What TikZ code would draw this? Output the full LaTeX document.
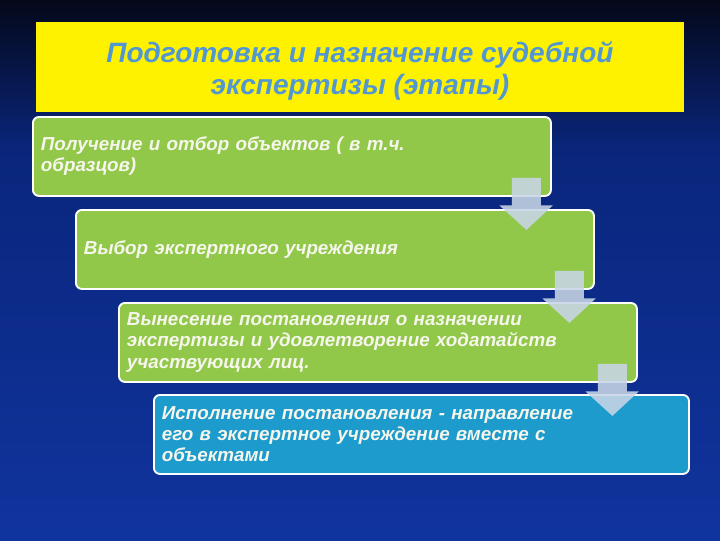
\documentclass[tikz,border=0pt]{standalone}
\usepackage{fontspec}
\setmainfont{Liberation Sans}
\begin{document}
\begin{tikzpicture}[x=0.75pt,y=-0.75pt,
  stagebox/.style={rectangle, rounded corners=4.5pt, draw=white, line width=1.4pt,
    fill=stagegreen, anchor=north west, minimum height=79*0.75pt,
    inner xsep=6pt, inner ysep=0pt, align=left, text=boxtext,
    font=\fontsize{14.1}{15.8}\selectfont\bfseries\itshape},
  blockarrow/.style={fill=arrowgrey, fill opacity=0.88, draw=none}
]
\definecolor{stagegreen}{RGB}{146,200,74}
\definecolor{stageblue}{RGB}{28,155,204}
\definecolor{arrowgrey}{RGB}{200,214,230}
\definecolor{boxtext}{RGB}{246,246,236}
\definecolor{titleblue}{RGB}{82,150,210}
\definecolor{bgtop}{RGB}{4,8,26}
\definecolor{bgmid}{RGB}{10,38,124}
\definecolor{bgbot}{RGB}{16,52,158}
\useasboundingbox (0,0) rectangle (720,540);
% background
\shade[top color=bgtop, bottom color=bgmid] (0,0) rectangle (720,150);
\shade[top color=bgmid, bottom color=bgbot] (0,150) rectangle (720,540);
% title
\node[rectangle, fill=yellow, minimum width=648*0.75pt, minimum height=90*0.75pt,
  anchor=north west, inner sep=0pt] (title) at (36,22) {};
\node[align=center, text=titleblue, inner sep=0pt,
  font=\fontsize{21}{24}\selectfont\bfseries\itshape] (titletext) at (360,71)
  {Подготовка и назначение судебной\\экспертизы (этапы)};
% stages
\node[stagebox, minimum width=518*0.75pt, text width=502*0.75pt] (b1) at (32,116)
  {Получение и отбор объектов ( в т.ч.\\образцов)};
\node[stagebox, minimum width=518*0.75pt, text width=502*0.75pt] (b2) at (75,209)
  {Выбор экспертного учреждения};
\node[stagebox, minimum width=518*0.75pt, text width=502*0.75pt] (b3) at (118,302)
  {Вынесение постановления о назначении\\экспертизы и удовлетворение ходатайств\\участвующих лиц.};
\node[stagebox, fill=stageblue, minimum width=535*0.75pt, text width=519*0.75pt] (b4) at (153,394)
  {Исполнение постановления - направление\\его в экспертное учреждение  вместе с\\объектами};
% block arrows
\foreach \b in {b1,b2,b3}{
  \begin{scope}[shift={(\b.south east)}]
    \fill[blockarrow] (-40,-19) -- (-11,-19) -- (-11,8.5) -- (1,8.5) -- (-25.5,33)
      -- (-52.5,8.5) -- (-40,8.5) -- cycle;
  \end{scope}
}
\end{tikzpicture}
\end{document}
